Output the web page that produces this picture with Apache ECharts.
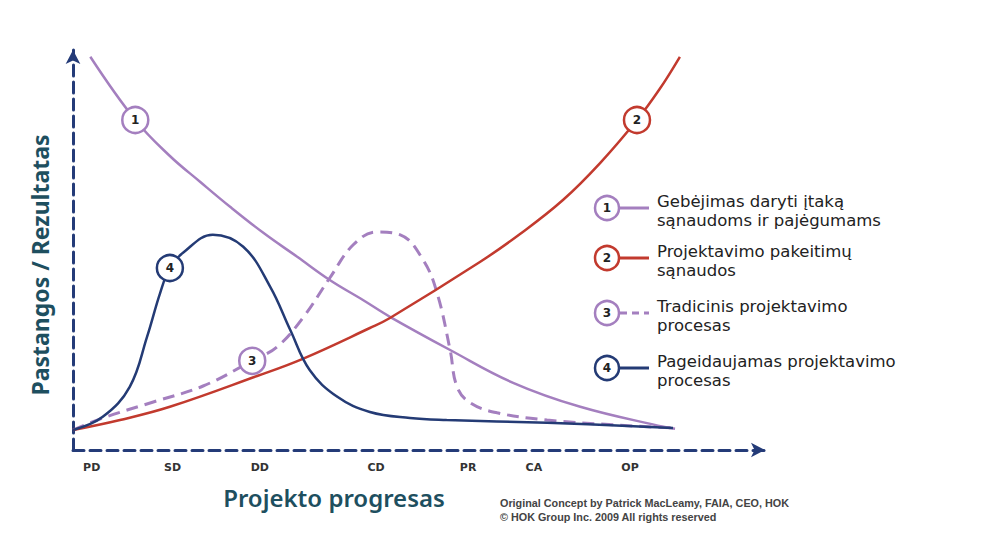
<!DOCTYPE html>
<html lang="lt">
<head>
    <meta charset="UTF-8">
    <title>MacLeamy kreivė</title>
    <script src="https://cdn.jsdelivr.net/npm/echarts@6/dist/echarts.min.js"></script>
    <style>
        html, body { margin: 0; padding: 0; background: #fff; }
    </style>
</head>
<body>
<div id="main" style="width: 990px;height:538px;"></div>
<script type="text/javascript">

    // project stages on the x axis (0..100 = progress)
    var stageNames = ['PD', 'SD', 'DD', 'CD', 'PR', 'CA', 'OP'];
    var stageValues = [2.7, 14.4, 27.0, 43.8, 57.1, 66.6, 80.5];

    // curve 1 - ability to influence cost
    var influence = [[2.5, 98.3], [9.0, 82.5], [14.0, 73.5], [18.4, 67.0], [22.7, 60.8],
        [27.5, 54.3], [32.4, 48.3], [37.1, 42.5], [41.9, 37.5], [45.8, 33.3], [54.5, 25.0],
        [63.6, 16.8], [73.3, 10.8], [85.3, 5.8], [87.0, 5.3]];
    // curve 2 - cost of design changes
    var changeCost = [[0, 5.0], [6.8, 7.5], [14.0, 10.8], [26.6, 18.5], [33.2, 22.8], [42.9, 30.5],
        [45.8, 33.0], [58.8, 47.0], [64.6, 54.0], [70.8, 62.5], [76.2, 71.8], [81.5, 82.5],
        [84.8, 90.3], [87.7, 98.3]];
    // curve 3 - traditional design process
    var traditional = [[0, 5.0], [4.3, 8.0], [11.6, 12.0], [18.8, 16.0], [25.9, 22.3], [29.5, 25.8],
        [33.2, 33.0], [37.1, 43.0], [40.5, 51.3], [43.9, 54.5], [47.3, 53.8], [50.6, 47.5],
        [52.6, 39.3], [54.5, 25.0], [55.5, 15.8], [57.4, 11.8], [61.3, 9.3], [68.5, 7.5],
        [78.0, 6.3], [87.0, 5.5]];
    // curve 4 - preferred design process
    var preferred = [[0, 5.0], [4.3, 8.3], [8.2, 15.8], [10.7, 28.3], [12.6, 39.3], [14.0, 45.5],
        [15.9, 49.3], [20.2, 53.8], [24.6, 50.8], [28.5, 40.8], [31.4, 30.0], [34.2, 20.0],
        [38.2, 13.3], [42.9, 9.5], [48.7, 8.0], [54.0, 7.5], [68.5, 6.8], [86.7, 5.5]];

    // where the numbered badge sits on each curve
    var badgeIndex = [1, 11, 4, 5];

    var legendLines = [
        ['Gebėjimas daryti įtaką', 'sąnaudoms ir pajėgumams'],
        ['Projektavimo pakeitimų', 'sąnaudos'],
        ['Tradicinis projektavimo', 'procesas'],
        ['Pageidaujamas projektavimo', 'procesas']
    ];
    var colors = ['#a47fbf', '#c23a2e', '#a47fbf', '#243b75'];
    var dashed = [false, false, true, false];
    var curves = [influence, changeCost, traditional, preferred];

    var axisColor = '#243b78';
    var titleColor = '#1e4f5f';
    var textFont = '"DejaVu Sans", sans-serif';

    var myChart = echarts.init(document.getElementById('main'), null, {renderer: 'svg'});

    function buildData(points, k) {
        return points.map(function (p, i) {
            if (i !== badgeIndex[k]) {
                return {value: p};
            }
            return {
                value: p,
                symbol: 'circle',
                symbolSize: 26,
                itemStyle: {color: '#fff', borderColor: colors[k], borderWidth: 2.5},
                label: {
                    show: true, position: 'inside', formatter: String(k + 1),
                    color: '#222', fontWeight: 'bold', fontSize: 12, fontFamily: 'DejaVu Sans'
                }
            };
        });
    }

    var series = curves.map(function (points, k) {
        return {
            name: legendLines[k].join(' '),
            type: 'line',
            smooth: 0.4,
            symbol: 'none',
            showAllSymbol: true,
            silent: true,
            z: k === 2 ? 2 : 3,
            lineStyle: {color: colors[k], width: dashed[k] ? 3 : 2.5, type: dashed[k] ? [12, 7] : 'solid'},
            data: buildData(points, k)
        };
    });

    // legend drawn by hand: badge + line sample + two line text
    var legendItems = [];
    var legendTop = [208, 258, 313, 368];
    legendLines.forEach(function (lines, k) {
        var y = legendTop[k];
        legendItems.push({
            type: 'line', shape: {x1: 620, y1: y, x2: 649, y2: y},
            style: {stroke: colors[k], lineWidth: 3, lineDash: dashed[k] ? [7, 5] : null}
        });
        legendItems.push({
            type: 'circle', shape: {cx: 607, cy: y, r: 12},
            style: {fill: '#fff', stroke: colors[k], lineWidth: 2.5}
        });
        legendItems.push({
            type: 'text', x: 607, y: y,
            style: {text: String(k + 1), fill: '#222', font: 'bold 12px "DejaVu Sans"',
                align: 'center', verticalAlign: 'middle'}
        });
        lines.forEach(function (line, j) {
            legendItems.push({
                type: 'text', x: 657, y: y - 7 + j * 19,
                style: {text: line, fill: '#222', font: '16.5px ' + textFont,
                    align: 'left', verticalAlign: 'middle'}
            });
        });
    });

    option = {
        animation: false,
        backgroundColor: '#fff',
        grid: {left: 73, right: 225, top: 50, bottom: 88},
        xAxis: {
            type: 'value', min: 0, max: 100,
            splitLine: {show: false},
            axisTick: {show: false},
            axisLine: {
                show: true, symbol: ['none', 'arrow'], symbolSize: [11, 14],
                lineStyle: {color: axisColor, width: 3, type: [11, 6]}
            },
            axisLabel: {
                customValues: stageValues,
                formatter: function (v) {
                    var i = stageValues.indexOf(v);
                    return i >= 0 ? stageNames[i] : '';
                },
                margin: 12, color: '#333', fontSize: 11, fontWeight: 'bold', fontFamily: 'DejaVu Sans'
            }
        },
        yAxis: {
            type: 'value', min: 0, max: 100,
            splitLine: {show: false},
            axisTick: {show: false},
            axisLabel: {show: false},
            axisLine: {
                show: true, onZero: false, symbol: ['none', 'arrow'], symbolSize: [11, 14],
                lineStyle: {color: axisColor, width: 3, type: [11, 6]}
            }
        },
        graphic: legendItems.concat([
            {
                type: 'text', x: 40, y: 265, rotation: Math.PI / 2,
                style: {text: 'Pastangos / Rezultatas', fill: titleColor, font: 'bold 23px "Noto Sans"',
                    align: 'center', verticalAlign: 'middle'}
            },
            {
                type: 'text', x: 334, y: 497,
                style: {text: 'Projekto progresas', fill: titleColor, font: '600 24px "Noto Sans"',
                    align: 'center', verticalAlign: 'middle'}
            },
            {
                type: 'text', x: 500, y: 503,
                style: {text: 'Original Concept by Patrick MacLeamy, FAIA, CEO, HOK', fill: '#444',
                    font: 'bold 10.8px "Liberation Sans"', verticalAlign: 'middle'}
            },
            {
                type: 'text', x: 500, y: 517,
                style: {text: '© HOK Group Inc. 2009 All rights reserved', fill: '#444',
                    font: 'bold 10.8px "Liberation Sans"', verticalAlign: 'middle'}
            }
        ]),
        series: series
    };

    myChart.setOption(option);
</script>
</body>
</html>
